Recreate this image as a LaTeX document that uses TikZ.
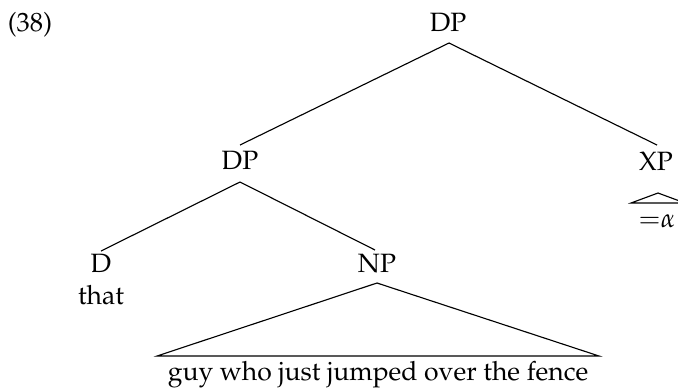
\documentclass[tikz,border=0pt]{standalone}
\usepackage[T1]{fontenc}
\usepackage{mathpazo}
\begin{document}
\begin{tikzpicture}[x=0.4pt,y=-0.4pt,
  lab/.style={anchor=base,inner sep=0pt,font=\fontsize{10.6}{12}\selectfont},
  edge/.style={draw=black,line width=0.45pt}]
\useasboundingbox (0,0) rectangle (678,388);
\clip (0,0) rectangle (678,388);
% labels
\node[lab] (num) at (30,31) {(38)};
\node[lab] (dptop) at (448,31) {DP};
\node[lab] (dpmid) at (240,169) {DP};
\node[lab] (xp) at (656,170) {XP};
\node[lab] (d) at (101,272) {D};
\node[lab] (that) at (101,304) {that};
\node[lab] (np) at (377,272) {NP};
\node[lab] (guy) at (378,380) {guy who just jumped over the fence};
\node[lab] (alpha) at (657,227) {${=}\alpha$};
% branch points
\coordinate (dptopb) at (449,43);
\coordinate (dpmidt) at (240,145);
\coordinate (xpt) at (657,145);
\coordinate (dpmidb) at (240,182);
\coordinate (dt) at (101,251);
\coordinate (npt) at (375,250);
\coordinate (npb) at (377,283);
\coordinate (npl) at (157,356);
\coordinate (npr) at (599,356);
\coordinate (xpb) at (658,193);
\coordinate (xpl) at (631,203);
\coordinate (xpr) at (685,203);
% connectors
\draw[edge] (dpmidt) -- (dptopb) -- (xpt);
\draw[edge] (dt) -- (dpmidb) -- (npt);
\draw[edge] (npb) -- (npl) -- (npr) -- cycle;
\draw[edge] (xpb) -- (xpl) -- (xpr) -- cycle;
\end{tikzpicture}
\end{document}
